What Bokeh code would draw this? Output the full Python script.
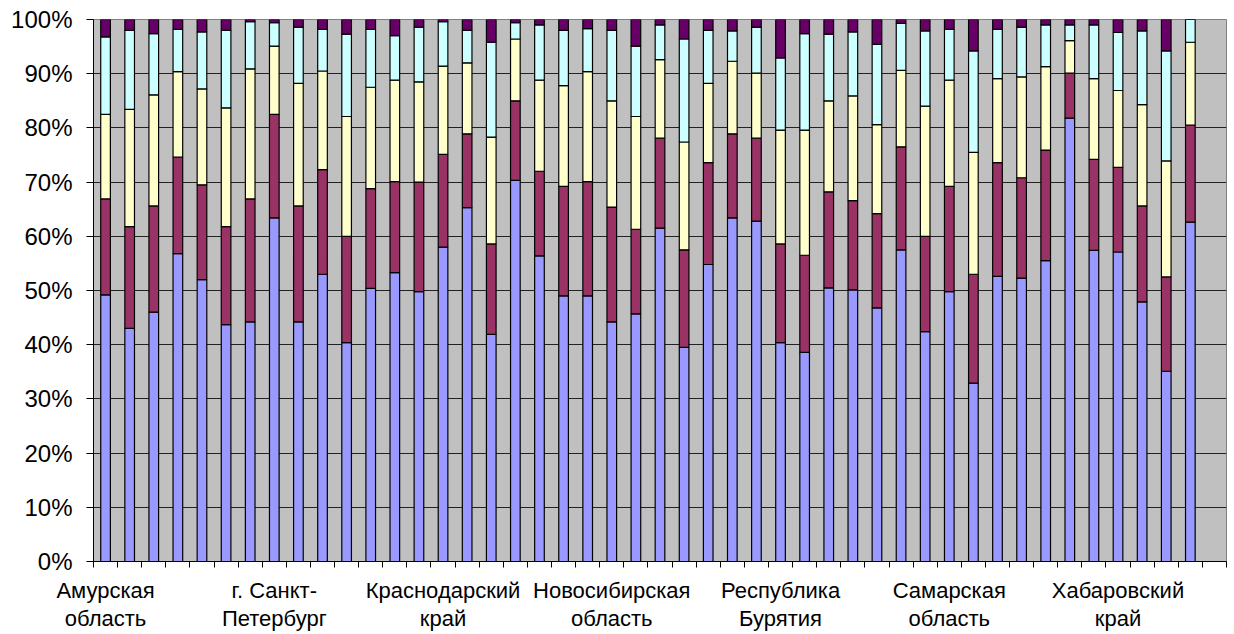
from bokeh.plotting import figure
from bokeh.models import Range1d, FixedTicker, ColumnDataSource
from bokeh.embed import file_html
from bokeh.resources import INLINE

# ---- data (percent shares per column, bottom to top) ----
region_labels = ["Амурская\nобласть", "г. Санкт-\nПетербург", "Краснодарский\nкрай",
                 "Новосибирская\nобласть", "Республика\nБурятия", "Самарская\nобласть",
                 "Хабаровский\nкрай"]
n_categories = 47
label_every = 7

s1 = [49.2, 43.0, 46.0, 56.8, 52.0, 43.7, 44.2, 63.4, 44.2, 53.0, 40.4, 50.4, 53.3, 49.8,
      58.0, 65.3, 41.9, 70.3, 56.4, 49.0, 49.0, 44.2, 45.7, 61.5, 39.5, 54.8, 63.4, 62.8,
      40.4, 38.6, 50.5, 50.1, 46.8, 57.5, 42.4, 49.8, 32.9, 52.6, 52.3, 55.5, 81.8, 57.4,
      57.1, 47.9, 35.1, 62.6]
s2 = [17.7, 18.8, 19.6, 17.8, 17.5, 18.1, 22.7, 19.1, 21.4, 19.3, 19.6, 18.4, 16.8, 20.2,
      17.1, 13.6, 16.7, 14.7, 15.6, 20.2, 21.1, 21.2, 15.6, 16.6, 18.0, 18.8, 15.5, 15.3,
      18.2, 17.9, 17.7, 16.5, 17.4, 19.0, 17.6, 19.4, 20.1, 21.0, 18.5, 20.4, 8.3, 16.8,
      15.6, 17.7, 17.4, 17.9]
s3 = [15.6, 21.6, 20.5, 15.8, 17.7, 21.9, 24.0, 12.6, 22.6, 18.2, 22.1, 18.7, 18.7, 18.5,
      16.3, 13.1, 19.7, 11.4, 16.8, 18.6, 20.3, 19.6, 20.8, 14.5, 19.9, 14.6, 13.4, 12.0,
      21.0, 23.1, 16.8, 19.3, 16.4, 14.1, 24.0, 19.6, 22.5, 15.5, 18.6, 15.4, 6.0, 14.9,
      14.2, 18.7, 21.4, 15.3]
s4 = [14.3, 14.6, 11.3, 7.8, 10.5, 14.3, 8.7, 4.3, 10.4, 7.7, 15.2, 10.7, 8.2, 10.1,
      8.2, 6.0, 17.5, 3.0, 10.2, 10.2, 7.9, 13.0, 13.0, 6.4, 19.0, 9.8, 5.6, 8.5,
      13.3, 17.8, 12.3, 11.8, 14.8, 8.7, 13.9, 9.4, 18.7, 9.1, 9.2, 7.7, 2.9, 9.9,
      10.7, 13.6, 20.3, 4.2]
s5 = [3.2, 2.0, 2.6, 1.8, 2.3, 2.0, 0.4, 0.6, 1.4, 1.8, 2.7, 1.8, 3.0, 1.4,
      0.4, 2.0, 4.2, 0.6, 1.0, 2.0, 1.7, 2.0, 4.9, 1.0, 3.6, 2.0, 2.1, 1.4,
      7.1, 2.6, 2.7, 2.3, 4.6, 0.7, 2.1, 1.8, 5.8, 1.8, 1.4, 1.0, 1.0, 1.0,
      2.4, 2.1, 5.8, 0.0]
series_colors = ["#9999FF", "#993366", "#FFFFCC", "#CCFFFF", "#660066"]
y_ticks = [0, 10, 20, 30, 40, 50, 60, 70, 80, 90, 100]
y_tick_labels = ["0%", "10%", "20%", "30%", "40%", "50%", "60%", "70%", "80%", "90%", "100%"]

x = [i + 0.5 for i in range(len(s1))]
src = ColumnDataSource(dict(x=x, s1=s1, s2=s2, s3=s3, s4=s4, s5=s5))

p = figure(width=1234, height=634, output_backend="svg", toolbar_location=None,
           x_range=Range1d(0, n_categories), y_range=Range1d(0, 100),
           min_border_left=93, min_border_right=8, min_border_top=19, min_border_bottom=72)
p.background_fill_color = "#C0C0C0"
p.border_fill_color = "white"
p.outline_line_color = "#808080"
p.outline_line_width = 1

p.vbar_stack(["s1", "s2", "s3", "s4", "s5"], x="x", width=0.4, color=series_colors,
             line_color="black", line_width=1.2, source=src)

FONT = "Liberation Sans"
# y axis
p.yaxis.ticker = FixedTicker(ticks=y_ticks)
p.yaxis.major_label_overrides = {t: l for t, l in zip(y_ticks, y_tick_labels)}
p.yaxis.major_label_text_font = FONT
p.yaxis.major_label_text_font_size = "24px"
p.yaxis.major_label_text_color = "black"
p.yaxis.major_tick_out = 7
p.yaxis.major_tick_in = 0
p.yaxis.minor_tick_line_color = None
p.yaxis.major_label_standoff = 14
p.yaxis.axis_line_color = "black"
p.yaxis.major_tick_line_color = "black"

# x axis: tick marks at category boundaries (minor), labels centered every 7 categories
label_pos = [i * label_every + 0.5 for i in range(len(region_labels))]
p.xaxis.ticker = FixedTicker(ticks=label_pos, minor_ticks=list(range(n_categories + 1)))
p.xaxis.major_label_overrides = {t: l for t, l in zip(label_pos, region_labels)}
p.xaxis.major_tick_line_color = None
p.xaxis.major_tick_out = 0
p.xaxis.major_tick_in = 0
p.xaxis.minor_tick_out = 6
p.xaxis.minor_tick_in = 0
p.xaxis.minor_tick_line_color = "black"
p.xaxis.axis_line_color = "black"
p.xaxis.major_label_text_font = FONT
p.xaxis.major_label_text_font_size = "22px"
p.xaxis.major_label_text_color = "black"
p.xaxis.major_label_text_line_height = 1.15
p.xaxis.major_label_standoff = 10

p.xgrid.grid_line_color = None
p.ygrid.ticker = FixedTicker(ticks=y_ticks)
p.ygrid.grid_line_color = "#222222"
p.ygrid.grid_line_width = 1

open("out.html", "w").write(file_html(p, INLINE))
